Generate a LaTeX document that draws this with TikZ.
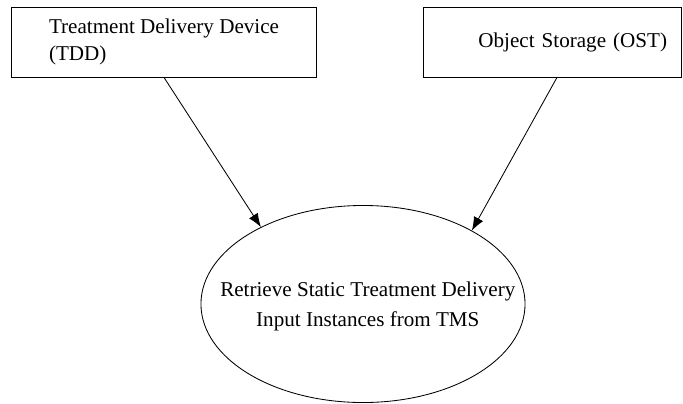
\documentclass[tikz,border=0pt]{standalone}
\usepackage{fontspec}
\setmainfont{Liberation Serif}
\usetikzlibrary{shapes.geometric,arrows.meta}

\begin{document}
\begin{tikzpicture}[x=0.025cm,y=-0.025cm,
        box/.style={draw,line width=0.6pt,minimum height=1.75cm,font=\fontsize{15}{19}\selectfont},
        process/.style={draw,ellipse,line width=0.6pt,minimum width=8.1cm,minimum height=4.925cm,inner sep=0pt},
        flow/.style={line width=0.6pt,-{Latex[length=0.34cm,width=0.26cm]}}]
            \useasboundingbox (0,0) rectangle (683,403);
            \node (tdd) [box,minimum width=7.61cm,align=left] at (164,42) {Treatment Delivery Device\\(TDD)};
            \node (ost) [box,minimum width=6.45cm,text width=5.75cm,inner xsep=0.35cm,align=right] at (552,42) {Object Storage (OST)};
            \node (tms) [process,label={[align=center,xshift=0.12cm,yshift=-0.05cm,font=\fontsize{15}{21.3}\selectfont]center:Retrieve Static Treatment Delivery\\Input Instances from TMS}] at (363,304) {};
            % les fleches vers le processus
            \draw [flow] (tdd.south) -- (tms.143);
            \draw [flow] ([xshift=0.125cm]ost.south) -- (tms.34);
        \end{tikzpicture}
\end{document}
